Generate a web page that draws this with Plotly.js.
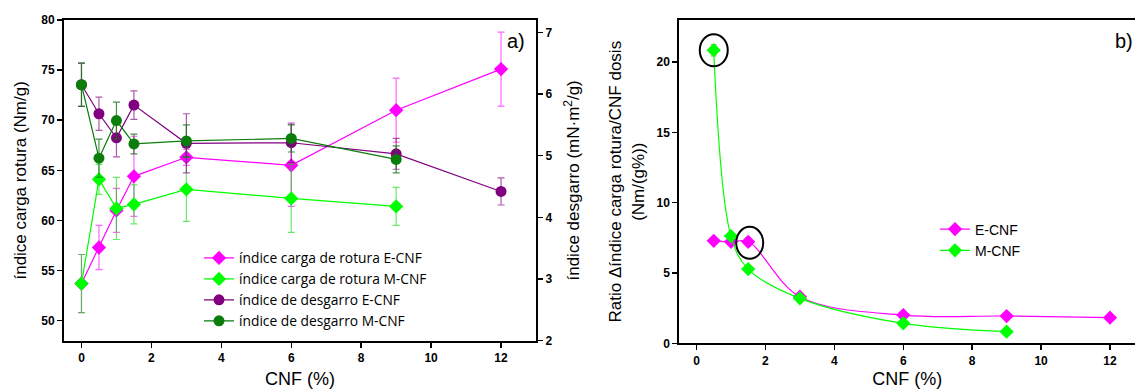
<!DOCTYPE html>
<html>
<head>
<meta charset="utf-8">
<script src="https://cdn.plot.ly/plotly-3.0.1.min.js"></script>
<style>
  html, body { margin: 0; padding: 0; background: #fff; overflow: hidden; }
  #chart { width: 1135px; height: 389px; }
</style>
</head>
<body>
<div id="chart"></div>
<script>
// ---- Panel a) data ----
const cnfE = [0, 0.5, 1, 1.5, 3, 6, 9, 12];
const cnfM = [0, 0.5, 1, 1.5, 3, 6, 9];

const tensileE = [53.7, 57.3, 61.0, 64.4, 66.3, 65.5, 71.0, 75.1];
const tensileEErr = [2.9, 2.2, 2.2, 4.0, 0.8, 4.1, 3.2, 3.7];
const tensileM = [53.7, 64.1, 61.2, 61.6, 63.1, 62.2, 61.4];
const tensileMErr = [2.9, 1.5, 3.1, 1.95, 3.2, 3.4, 1.9];

const tearE = [6.15, 5.68, 5.29, 5.82, 5.20, 5.21, 5.03, 4.42];
const tearEErr = [0.35, 0.27, 0.31, 0.23, 0.48, 0.32, 0.25, 0.22];
const tearM = [6.15, 4.96, 5.57, 5.19, 5.24, 5.28, 4.94];
const tearMErr = [0.35, 0.31, 0.30, 0.16, 0.26, 0.22, 0.22];

// ---- Panel b) data ----
const cnfRatioE = [0.5, 1, 1.5, 3, 6, 9, 12];
const ratioE = [7.29, 7.22, 7.22, 3.31, 2.01, 1.94, 1.82];
const ratioEErr = [0, 0, 0.3, 0, 0, 0, 0];
const cnfRatioM = [0.5, 1, 1.5, 3, 6, 9];
const ratioM = [20.85, 7.63, 5.28, 3.20, 1.42, 0.83];
const ratioMErr = [0.4, 0, 0, 0, 0, 0];

const xTicks = [0, 2, 4, 6, 8, 10, 12];
const namesA = ["índice carga de rotura E-CNF", "índice carga de rotura M-CNF",
                "índice de desgarro E-CNF", "índice de desgarro M-CNF"];
const namesB = ["E-CNF", "M-CNF"];

const MAG = "#FF00FF", LGR = "#00FF00", PUR = "#800080", DGR = "#0A7D0A";

const traces = [
  { x: cnfE, y: tensileE, name: namesA[0], type: "scatter", mode: "lines+markers",
    xaxis: "x", yaxis: "y", legend: "legend",
    line: { color: MAG, width: 1.2 },
    marker: { symbol: "diamond", size: 11, color: MAG },
    error_y: { type: "data", array: tensileEErr, visible: true, color: "rgba(255,0,255,0.6)", thickness: 1.2, width: 3.5 } },
  { x: cnfM, y: tensileM, name: namesA[1], type: "scatter", mode: "lines+markers",
    xaxis: "x", yaxis: "y", legend: "legend",
    line: { color: LGR, width: 1.2 },
    marker: { symbol: "diamond", size: 11, color: LGR },
    error_y: { type: "data", array: tensileMErr, visible: true, color: "rgba(0,220,0,0.6)", thickness: 1.2, width: 3.5 } },
  { x: cnfE, y: tearE, name: namesA[2], type: "scatter", mode: "lines+markers",
    xaxis: "x", yaxis: "y2", legend: "legend",
    line: { color: PUR, width: 1.2 },
    marker: { symbol: "circle", size: 11, color: PUR },
    error_y: { type: "data", array: tearEErr, visible: true, color: "rgba(128,0,128,0.65)", thickness: 1.2, width: 3.5 } },
  { x: cnfM, y: tearM, name: namesA[3], type: "scatter", mode: "lines+markers",
    xaxis: "x", yaxis: "y2", legend: "legend",
    line: { color: DGR, width: 1.2 },
    marker: { symbol: "circle", size: 11, color: DGR },
    error_y: { type: "data", array: tearMErr, visible: true, color: "rgba(10,110,10,0.75)", thickness: 1.2, width: 3.5 } },
  { x: cnfRatioE, y: ratioE, name: namesB[0], type: "scatter", mode: "lines+markers",
    xaxis: "x2", yaxis: "y3", legend: "legend2",
    line: { color: MAG, width: 1.2, shape: "spline", smoothing: 1 },
    marker: { symbol: "diamond", size: 11, color: MAG },
    error_y: { type: "data", array: ratioEErr, visible: true, color: "#aaaaaa", thickness: 1.2, width: 3 } },
  { x: cnfRatioM, y: ratioM, name: namesB[1], type: "scatter", mode: "lines+markers",
    xaxis: "x2", yaxis: "y3", legend: "legend2",
    line: { color: LGR, width: 1.2, shape: "spline", smoothing: 1 },
    marker: { symbol: "diamond", size: 11, color: LGR },
    error_y: { type: "data", array: ratioMErr, visible: true, color: "#aaaaaa", thickness: 1.2, width: 3 } }
];

const W = 1135, H = 389;
const tickFont = { family: "Arial, Liberation Sans, sans-serif", size: 12, color: "#000", weight: "bold" };
const titleFont = { family: "Arial, Liberation Sans, sans-serif", size: 17, color: "#000" };
const axBase = {
  showgrid: false, zeroline: false, showline: true, linecolor: "#000", linewidth: 2,
  ticks: "outside", ticklen: 5, tickwidth: 1.5, tickcolor: "#000", tickfont: tickFont
};

const layout = {
  width: W, height: H,
  margin: { l: 0, r: 0, t: 0, b: 0 },
  paper_bgcolor: "#fff", plot_bgcolor: "rgba(0,0,0,0)",
  xaxis: Object.assign({}, axBase, {
    domain: [64 / W, 536 / W], range: [-0.5, 13], anchor: "y",
    tickvals: xTicks, mirror: true,
    title: { text: "CNF (%)", font: { family: "Arial, Liberation Sans, sans-serif", size: 18, color: "#000" }, standoff: 9 }
  }),
  yaxis: Object.assign({}, axBase, {
    domain: [(H - 340.7) / H, (H - 20) / H], range: [48, 80], anchor: "x",
    tickvals: [50, 55, 60, 65, 70, 75, 80],
    title: { text: "índice carga rotura (Nm/g)", font: titleFont, standoff: 10 }
  }),
  yaxis2: Object.assign({}, axBase, {
    overlaying: "y", side: "right", anchor: "x", range: [2, 7.2],
    tickvals: [2, 3, 4, 5, 6, 7],
    title: { text: "índice desgarro (mN·m<sup>2</sup>/g)", font: titleFont, standoff: 16 }
  }),
  xaxis2: Object.assign({}, axBase, {
    domain: [679.3 / W, 1], range: [-0.5, 12.726], anchor: "y3",
    tickvals: xTicks, mirror: true,
    title: { text: "CNF (%)", font: { family: "Arial, Liberation Sans, sans-serif", size: 18, color: "#000" }, standoff: 10 }
  }),
  yaxis3: Object.assign({}, axBase, {
    domain: [(H - 343.3) / H, (H - 20) / H], range: [0, 23], anchor: "x2",
    tickvals: [0, 5, 10, 15, 20],
    title: { text: "Ratio Δíndice carga rotura/CNF dosis<br>(Nm/(g%))", font: titleFont, standoff: 8 }
  }),
  legend: {
    x: 199 / W, xanchor: "left", y: (H - 242.5) / H, yanchor: "top",
    bgcolor: "rgba(0,0,0,0)", borderwidth: 0,
    font: { family: "Open Sans, Noto Sans, sans-serif", size: 13.8, color: "#000" },
    traceorder: "normal"
  },
  legend2: {
    x: 935 / W, xanchor: "left", y: (H - 213.5) / H, yanchor: "top",
    bgcolor: "rgba(0,0,0,0)", borderwidth: 0,
    font: { family: "Arial, Liberation Sans, sans-serif", size: 14, color: "#000" },
    traceorder: "normal"
  },
  showlegend: true,
  annotations: [
    { text: "a)", xref: "paper", yref: "paper", x: 516 / W, y: (H - 41) / H,
      xanchor: "center", yanchor: "middle", showarrow: false,
      font: { family: "Arial, Liberation Sans, sans-serif", size: 20, color: "#000" } },
    { text: "b)", xref: "paper", yref: "paper", x: 1124 / W, y: (H - 41) / H,
      xanchor: "center", yanchor: "middle", showarrow: false,
      font: { family: "Arial, Liberation Sans, sans-serif", size: 20, color: "#000" } }
  ],
  shapes: [
    { type: "circle", xref: "x2", yref: "y3", xsizemode: "pixel", ysizemode: "pixel",
      xanchor: cnfRatioM[0], yanchor: ratioM[0], x0: -14, x1: 14, y0: -16, y1: 16,
      line: { color: "#000", width: 2 } },
    { type: "circle", xref: "x2", yref: "y3", xsizemode: "pixel", ysizemode: "pixel",
      xanchor: cnfRatioE[2], yanchor: ratioE[2], x0: -12, x1: 15, y0: -17, y1: 15,
      line: { color: "#000", width: 2 } }
  ]
};

Plotly.newPlot("chart", traces, layout, { displayModeBar: false, staticPlot: true });
</script>
</body>
</html>
